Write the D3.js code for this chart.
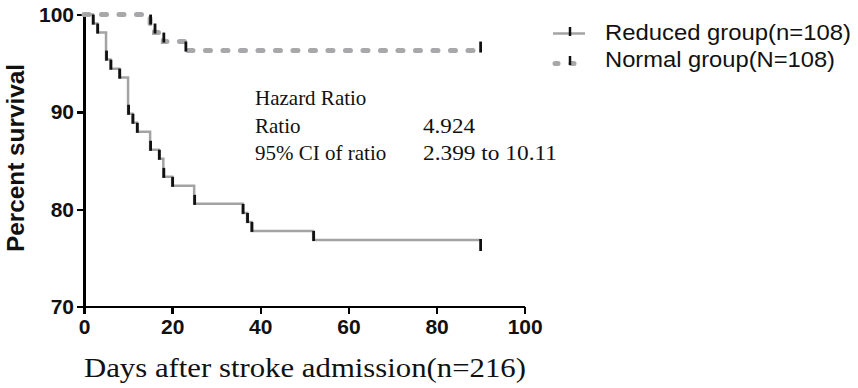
<!DOCTYPE html>
<meta charset="utf-8">
<script src="https://cdn.jsdelivr.net/npm/d3@7"></script>
<style>
body { margin: 0; background: #fff; }
.axis path, .axis line { stroke: #000; stroke-width: 2.5; shape-rendering: crispEdges; }
.serif { font-family: "Liberation Serif", "Times New Roman", serif; fill: #111; }
.legend text { font-family: "Liberation Sans", Arial, sans-serif; font-size: 22px; fill: #111; }
</style>
<body>
<div id="chart"></div>
<script>
// ---- data ----
const reducedDays = [2, 3, 5, 6, 8, 10, 11, 12, 15, 17, 18, 20, 25, 36, 37, 38, 52];
const reducedSurv = [99.07, 98.15, 95.37, 94.44, 93.52, 89.81, 88.89, 87.96, 86.11, 85.19, 83.33, 82.41, 80.56, 79.63, 78.70, 77.78, 76.85];
const normalDays = [15, 16, 18, 23];
const normalSurv = [99.07, 98.15, 97.22, 96.30];
const followUp = 90;
const xTicks = [0, 20, 40, 60, 80, 100];
const yTicks = [70, 80, 90, 100];
const seriesNames = ["Reduced group(n=108)", "Normal group(N=108)"];
const hrRows = [["Hazard Ratio", ""], ["Ratio", "4.924"], ["95% CI of ratio", "2.399 to 10.11"]];

const width = 858, height = 388;

const svg = d3.select("#chart").append("svg")
    .attr("width", width)
    .attr("height", height);

const x = d3.scaleLinear().domain([0, 100]).range([84, 524.7]);
const y = d3.scaleLinear().domain([70, 100]).range([306.7, 14.5]);

// build step points
function steps(days, surv) {
  const pts = [[0, 100]];
  days.forEach((d, i) => pts.push([d, surv[i]]));
  pts.push([followUp, surv[surv.length - 1]]);
  return pts;
}
const line = d3.line()
    .x(d => x(d[0]))
    .y(d => y(d[1]))
    .curve(d3.curveStepAfter);

function tickText(g, size) {
  g.selectAll("text")
    .style("font-family", "'Liberation Sans', Arial, sans-serif")
    .style("font-weight", "bold")
    .style("font-size", size + "px")
    .style("fill", "#111");
}

// ---- axes ----
svg.append("g")
    .attr("class", "axis")
    .attr("transform", "translate(0," + y(70) + ")")
    .call(d3.axisBottom(x).tickValues(xTicks).tickSize(7).tickSizeOuter(0).tickPadding(5))
    .call(g => tickText(g, 21));

svg.append("g")
    .attr("class", "axis")
    .attr("transform", "translate(" + x(0) + ",0)")
    .call(d3.axisLeft(y).tickValues(yTicks).tickSize(7).tickSizeOuter(0).tickPadding(3))
    .call(g => tickText(g, 21));

// axis titles
svg.append("text")
    .attr("transform", "translate(24," + 158 + ") rotate(-90)")
    .attr("text-anchor", "middle")
    .attr("textLength", 188)
    .attr("lengthAdjust", "spacingAndGlyphs")
    .style("font-family", "Liberation Sans, Arial, sans-serif")
    .style("font-weight", "bold")
    .style("font-size", "24px")
    .style("fill", "#111")
    .text("Percent survival");

svg.append("text")
    .attr("class", "serif")
    .attr("x", 84)
    .attr("y", 377)
    .attr("textLength", 442)
    .attr("lengthAdjust", "spacingAndGlyphs")
    .style("font-size", "28px")
    .text("Days after stroke admission(n=216)");

// ---- curves ----
const normalPts = steps(normalDays, normalSurv);
const reducedPts = steps(reducedDays, reducedSurv);

svg.append("path")
    .attr("d", line(normalPts))
    .attr("fill", "none")
    .attr("stroke", "#a8a8aa")
    .attr("stroke-width", 5)
    .attr("stroke-linecap", "round")
    .attr("stroke-dasharray", "5,12.5");

svg.append("path")
    .attr("d", line(reducedPts))
    .attr("fill", "none")
    .attr("stroke", "#a3a3a3")
    .attr("stroke-width", 2.5);

// event ticks
function ticks(days, surv) {
  svg.append("g").selectAll("line")
    .data(days.map((d, i) => [d, surv[i]]))
    .join("line")
    .attr("x1", d => x(d[0]) + 0.5).attr("x2", d => x(d[0]) + 0.5)
    .attr("y1", d => y(d[1]) - 9).attr("y2", d => y(d[1]) + 1)
    .attr("stroke", "#111")
    .attr("stroke-width", 2.8);
}
ticks(reducedDays, reducedSurv);
ticks(normalDays, normalSurv);

// censor ticks at end of follow up
const lastR = reducedSurv[reducedSurv.length - 1];
const lastN = normalSurv[normalSurv.length - 1];
svg.append("line")
    .attr("x1", x(followUp)).attr("x2", x(followUp))
    .attr("y1", y(lastR) - 1).attr("y2", y(lastR) + 11)
    .attr("stroke", "#111").attr("stroke-width", 2.8);
svg.append("line")
    .attr("x1", x(followUp)).attr("x2", x(followUp))
    .attr("y1", y(lastN) - 9).attr("y2", y(lastN) + 2)
    .attr("stroke", "#111").attr("stroke-width", 2.8);

// ---- hazard ratio box ----
const hr = svg.append("g").attr("class", "serif").style("font-size", "21px");
const valueWidths = [0, 52, 134];
hrRows.forEach((r, i) => {
  hr.append("text").attr("x", 255).attr("y", 105 + i * 27.5).text(r[0]);
  if (r[1]) {
    hr.append("text").attr("x", 423).attr("y", 105 + i * 27.5)
      .attr("textLength", valueWidths[i])
      .attr("lengthAdjust", "spacingAndGlyphs")
      .text(r[1]);
  }
});

// ---- legend ----
const legend = svg.append("g").attr("class", "legend");
legend.append("line")
    .attr("x1", 553).attr("x2", 585).attr("y1", 33.5).attr("y2", 33.5)
    .attr("stroke", "#a3a3a3").attr("stroke-width", 2.5);
legend.append("line")
    .attr("x1", 570).attr("x2", 570).attr("y1", 27).attr("y2", 36)
    .attr("stroke", "#111").attr("stroke-width", 2.5);
legend.append("line")
    .attr("x1", 555).attr("x2", 579).attr("y1", 63.5).attr("y2", 63.5)
    .attr("stroke", "#a8a8aa").attr("stroke-width", 5)
    .attr("stroke-linecap", "round").attr("stroke-dasharray", "3,13");
legend.append("line")
    .attr("x1", 570).attr("x2", 570).attr("y1", 56).attr("y2", 65)
    .attr("stroke", "#111").attr("stroke-width", 2.5);
legend.selectAll("text.name")
    .data(seriesNames)
    .join("text")
    .attr("class", "name")
    .attr("x", 605)
    .attr("y", (d, i) => 40 + i * 27)
    .attr("textLength", (d, i) => i === 0 ? 246 : 230)
    .attr("lengthAdjust", "spacingAndGlyphs")
    .text(d => d);
</script>
</body>
